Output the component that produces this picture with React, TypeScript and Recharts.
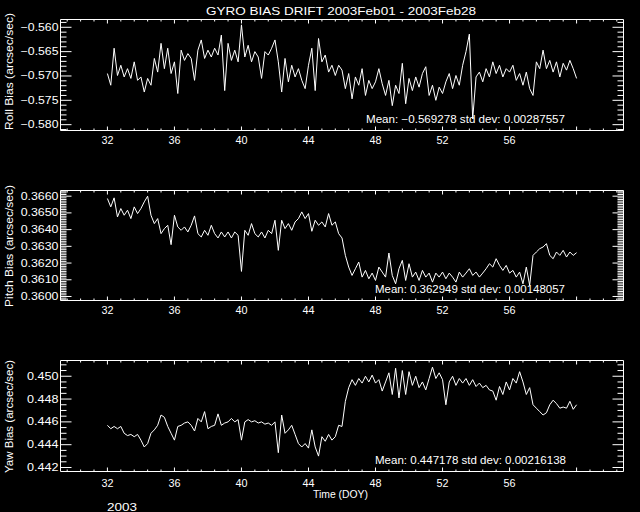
import React from 'react';
import { LineChart, Line, XAxis, YAxis } from 'recharts';

// samples every 0.2 day starting at DOY 32
const DAY_START = 32;
const DAY_STEP = 0.2;

const rollBias = [
  -0.5695, -0.5719, -0.5643, -0.5699, -0.5678, -0.5702, -0.5685, -0.5705, -0.5671, -0.5709,
  -0.5702, -0.5733, -0.5705, -0.5719, -0.5664, -0.5692, -0.5633, -0.5685, -0.5643, -0.5695,
  -0.5671, -0.5736, -0.5647, -0.5668, -0.5654, -0.5664, -0.5709, -0.5647, -0.5626, -0.5664,
  -0.5647, -0.5661, -0.5643, -0.5657, -0.5616, -0.5730, -0.5633, -0.5668, -0.5647, -0.5671,
  -0.5595, -0.5661, -0.5637, -0.5671, -0.5650, -0.5661, -0.5705, -0.5650, -0.5657, -0.5643,
  -0.5626, -0.5671, -0.5733, -0.5664, -0.5712, -0.5678, -0.5702, -0.5685, -0.5709, -0.5726,
  -0.5678, -0.5643, -0.5730, -0.5623, -0.5671, -0.5657, -0.5692, -0.5678, -0.5699, -0.5678,
  -0.5688, -0.5726, -0.5695, -0.5747, -0.5702, -0.5719, -0.5685, -0.5740, -0.5709, -0.5726,
  -0.5712, -0.5685, -0.5716, -0.5740, -0.5709, -0.5761, -0.5719, -0.5736, -0.5674, -0.5757,
  -0.5705, -0.5730, -0.5702, -0.5723, -0.5695, -0.5681, -0.5740, -0.5719, -0.5750, -0.5723,
  -0.5736, -0.5712, -0.5695, -0.5726, -0.5699, -0.5719, -0.5678, -0.5650, -0.5614, -0.5788,
  -0.5702, -0.5692, -0.5712, -0.5685, -0.5702, -0.5671, -0.5695, -0.5678, -0.5702, -0.5685,
  -0.5692, -0.5678, -0.5709, -0.5695, -0.5719, -0.5692, -0.5726, -0.5740, -0.5671, -0.5685,
  -0.5647, -0.5685, -0.5668, -0.5692, -0.5671, -0.5702, -0.5674, -0.5688, -0.5668, -0.5685, -0.5705,
];

const pitchBias = [
  0.36586, 0.36536, 0.3659, 0.36476, 0.36526, 0.36486, 0.36516, 0.36466, 0.36536, 0.36496,
  0.36526, 0.36566, 0.366, 0.36486, 0.36436, 0.36466, 0.36376, 0.36406, 0.36426, 0.3631,
  0.36486, 0.36416, 0.36396, 0.36416, 0.36386, 0.36426, 0.36482, 0.36376, 0.36356, 0.36396,
  0.36366, 0.36426, 0.36376, 0.3635, 0.36386, 0.36356, 0.36386, 0.3635, 0.36386, 0.36366,
  0.3615, 0.36396, 0.36366, 0.36436, 0.36376, 0.36356, 0.36386, 0.3635, 0.36396, 0.36376,
  0.36456, 0.36276, 0.36456, 0.36406, 0.36436, 0.36396, 0.36446, 0.36466, 0.36506, 0.36466,
  0.36496, 0.3639, 0.36456, 0.36426, 0.36446, 0.36416, 0.36496, 0.36426, 0.36446, 0.36376,
  0.3635, 0.36246, 0.36176, 0.36126, 0.36166, 0.36206, 0.36116, 0.36156, 0.36106, 0.3614,
  0.36096, 0.36176, 0.36146, 0.36116, 0.3626, 0.36126, 0.36076, 0.36166, 0.36216, 0.36096,
  0.36196, 0.36116, 0.36146, 0.36096, 0.36156, 0.36116, 0.3614, 0.36086, 0.3614, 0.36116,
  0.36146, 0.36106, 0.3614, 0.36116, 0.36086, 0.36146, 0.36116, 0.3614, 0.36166, 0.36126,
  0.36146, 0.36116, 0.3614, 0.36166, 0.36196, 0.36176, 0.36226, 0.36186, 0.36156, 0.36186,
  0.3614, 0.36156, 0.36116, 0.36146, 0.36076, 0.36176, 0.36066, 0.36246, 0.36266, 0.36286,
  0.36296, 0.36316, 0.36246, 0.36226, 0.36266, 0.36246, 0.36276, 0.36236, 0.36266, 0.36246, 0.36262,
];

const yawBias = [
  0.4457, 0.4454, 0.4456, 0.4454, 0.4456, 0.445, 0.4448, 0.4449, 0.4447, 0.4449,
  0.4444, 0.4438, 0.4441, 0.445, 0.4453, 0.4457, 0.4466, 0.4464, 0.4456, 0.445,
  0.4444, 0.4456, 0.4457, 0.4459, 0.446, 0.4457, 0.4452, 0.4463, 0.446, 0.4469,
  0.4454, 0.4456, 0.4457, 0.4467, 0.4457, 0.4459, 0.446, 0.4463, 0.446, 0.4462,
  0.4444, 0.446, 0.4462, 0.446, 0.4461, 0.4459, 0.446, 0.4458, 0.4459, 0.4457,
  0.446, 0.4433, 0.4466, 0.445, 0.4453, 0.4457, 0.4449, 0.4441, 0.4438, 0.4441,
  0.4437, 0.4453, 0.4438, 0.443, 0.4447, 0.4443, 0.4449, 0.4444, 0.4447, 0.4457,
  0.4456, 0.4478, 0.449, 0.4497, 0.4492, 0.4498, 0.4494, 0.45, 0.4495, 0.4501,
  0.4494, 0.4497, 0.4487, 0.4495, 0.4503, 0.4484, 0.4507, 0.4481, 0.4505, 0.4484,
  0.4504, 0.4492, 0.45, 0.449, 0.4495, 0.4488, 0.4498, 0.4508, 0.4498, 0.4503,
  0.4497, 0.4475, 0.4495, 0.45, 0.4492, 0.4498, 0.4494, 0.4498, 0.4492, 0.4497,
  0.4491, 0.4494, 0.449, 0.4492, 0.4488, 0.4487, 0.4479, 0.4491, 0.4484, 0.4495,
  0.4488, 0.4498, 0.4494, 0.4504, 0.4495, 0.4484, 0.449, 0.4475, 0.4472, 0.4469,
  0.4466, 0.4468, 0.4475, 0.4479, 0.4476, 0.4472, 0.4473, 0.4472, 0.4478, 0.4471, 0.4475,
];

const dayTicks = [32, 36, 40, 44, 48, 52, 56, 60];
const dayLabels = [32, 36, 40, 44, 48, 52, 56];
const rollTicks = [-0.58, -0.575, -0.57, -0.565, -0.56];
const pitchTicks = [0.36, 0.361, 0.362, 0.363, 0.364, 0.365, 0.366];
const yawTicks = [0.442, 0.444, 0.446, 0.448, 0.45];

const DAY_DOMAIN: [number, number] = [29.2, 62.8];
const FONT = 'Liberation Sans, Arial, sans-serif';

const toRows = (vals: number[]) =>
  vals.map((v, i) => ({ day: Math.round((DAY_START + i * DAY_STEP) * 100) / 100, v }));

// every major interval split in 5 minor steps
const minorDays: number[] = [];
for (let k = 0; k < 45; k++) {
  const d = Math.round((28 + k * 0.8) * 10) / 10;
  if (d > DAY_DOMAIN[0] && d < DAY_DOMAIN[1]) minorDays.push(d);
}

const stepTicks = (from: number, to: number, scale: number) => {
  const out: number[] = [];
  for (let k = from; k <= to; k++) out.push(k / scale);
  return out;
};

const isMajor = (majors: number[], v: number) => majors.some((m) => Math.abs(m - v) < 1e-9);

const XTick = (props: any) => {
  const { x, y, payload, side, labelDy } = props;
  const major = isMajor(dayTicks, payload.value);
  const len = major ? 4 : 2;
  const dir = side === 'bottom' ? -1 : 1;
  return (
    <g>
      <line x1={x} x2={x} y1={y} y2={y + dir * len} stroke="#fff" />
      {side === 'bottom' && isMajor(dayLabels, payload.value) && (
        <text x={x} y={y + labelDy} textAnchor="middle" fill="#fff" fontSize={10} fontFamily={FONT}
          textLength={12} lengthAdjust="spacingAndGlyphs">
          {payload.value}
        </text>
      )}
    </g>
  );
};

const YTick = (props: any) => {
  const { x, y, payload, side, majors, fmt } = props;
  const major = isMajor(majors, payload.value);
  const len = major ? 11 : 6;
  const dir = side === 'left' ? 1 : -1;
  const label = fmt ? fmt(payload.value) : '';
  return (
    <g>
      <line x1={x} x2={x + dir * len} y1={y} y2={y} stroke="#fff" />
      {side === 'left' && major && (
        <text x={x - 2} y={y + 3.5} textAnchor="end" fill="#fff" fontSize={10} fontFamily={FONT}
          textLength={label.length * 6.3} lengthAdjust="spacingAndGlyphs">
          {label}
        </text>
      )}
    </g>
  );
};

type PanelProps = {
  data: number[];
  top: number;
  bottom: number;
  domain: [number, number];
  majors: number[];
  minors: number[];
  fmt: (v: number) => string;
  labelDy: number;
};

const Panel = ({ data, top, bottom, domain, majors, minors, fmt, labelDy }: PanelProps) => (
  <div style={{ position: 'absolute', left: 0, top: 0 }}>
    <LineChart width={640} height={512} data={toRows(data)}
      margin={{ top: 0, right: 0, left: 0, bottom: 512 - bottom - 40 }}>
      <XAxis xAxisId="t" orientation="top" dataKey="day" type="number" domain={DAY_DOMAIN}
        allowDataOverflow height={top} ticks={minorDays} interval={0} tickSize={0} tickMargin={0}
        tickLine={false} axisLine={{ stroke: '#fff' }}
        tick={(p: any) => <XTick {...p} side="top" />} />
      <XAxis xAxisId="b" dataKey="day" type="number" domain={DAY_DOMAIN} allowDataOverflow
        height={40} ticks={minorDays} interval={0} tickSize={0} tickMargin={0} tickLine={false}
        axisLine={{ stroke: '#fff' }}
        tick={(p: any) => <XTick {...p} side="bottom" labelDy={labelDy} />} />
      <YAxis yAxisId="l" type="number" domain={domain} allowDataOverflow width={60.5}
        ticks={minors} interval={0} tickSize={0} tickMargin={0} tickLine={false}
        axisLine={{ stroke: '#fff' }}
        tick={(p: any) => <YTick {...p} side="left" majors={majors} fmt={fmt} />} />
      <YAxis yAxisId="r" orientation="right" type="number" domain={domain} allowDataOverflow
        width={16.5} ticks={minors} interval={0} tickSize={0} tickMargin={0} tickLine={false}
        axisLine={{ stroke: '#fff' }}
        tick={(p: any) => <YTick {...p} side="right" majors={majors} />} />
      <Line xAxisId="b" yAxisId="l" dataKey="v" type="linear" stroke="#fff" strokeWidth={1}
        dot={false} isAnimationActive={false} />
    </LineChart>
  </div>
);

const minus = (s: string) => s.replace('-', '\u2212');

const App = () => {
  const txt = { fill: '#fff', fontFamily: FONT, fontSize: 10 };
  return (
    <div style={{ position: 'absolute', left: 0, top: 0, width: 640, height: 512, background: '#000', overflow: 'hidden' }}>
      <Panel data={rollBias} top={19.5} bottom={130.5} domain={[-0.5812, -0.5584]}
        majors={rollTicks} minors={stepTicks(-581, -559, 1000)}
        fmt={(v) => minus(v.toFixed(3))} labelDy={13} />
      <Panel data={pitchBias} top={190.5} bottom={300.5} domain={[0.35976, 0.36634]}
        majors={pitchTicks} minors={stepTicks(3598, 3663, 10000)}
        fmt={(v) => v.toFixed(4)} labelDy={13} />
      <Panel data={yawBias} top={360.5} bottom={471.5} domain={[0.44165, 0.45138]}
        majors={yawTicks} minors={stepTicks(884, 902, 2000)}
        fmt={(v) => v.toFixed(3)} labelDy={15} />
      <svg width={640} height={512} style={{ position: 'absolute', left: 0, top: 0 }}>
        <text x={341} y={14.5} textAnchor="middle" {...txt} fontSize={11} textLength={270}
          lengthAdjust="spacingAndGlyphs">GYRO BIAS DRIFT 2003Feb01 - 2003Feb28</text>
        <text x={565} y={122.5} textAnchor="end" {...txt} textLength={199}
          lengthAdjust="spacingAndGlyphs">{minus('Mean: -0.569278 std dev: 0.00287557')}</text>
        <text x={565} y={293} textAnchor="end" {...txt} textLength={190}
          lengthAdjust="spacingAndGlyphs">Mean: 0.362949 std dev: 0.00148057</text>
        <text x={566} y={464} textAnchor="end" {...txt} textLength={191}
          lengthAdjust="spacingAndGlyphs">Mean: 0.447178 std dev: 0.00216138</text>
        <text transform="translate(13,71.5) rotate(-90)" textAnchor="middle" {...txt}
          textLength={117} lengthAdjust="spacingAndGlyphs">Roll Bias (arcsec/sec)</text>
        <text transform="translate(13,246) rotate(-90)" textAnchor="middle" {...txt}
          textLength={122} lengthAdjust="spacingAndGlyphs">Pitch Bias (arcsec/sec)</text>
        <text transform="translate(13,416.5) rotate(-90)" textAnchor="middle" {...txt}
          textLength={113} lengthAdjust="spacingAndGlyphs">Yaw Bias (arcsec/sec)</text>
        <text x={340.5} y={498} textAnchor="middle" {...txt} textLength={55}
          lengthAdjust="spacingAndGlyphs">Time (DOY)</text>
        <text x={122} y={510.5} textAnchor="middle" {...txt} fontSize={11} textLength={30}
          lengthAdjust="spacingAndGlyphs">2003</text>
      </svg>
    </div>
  );
};

export default App;
